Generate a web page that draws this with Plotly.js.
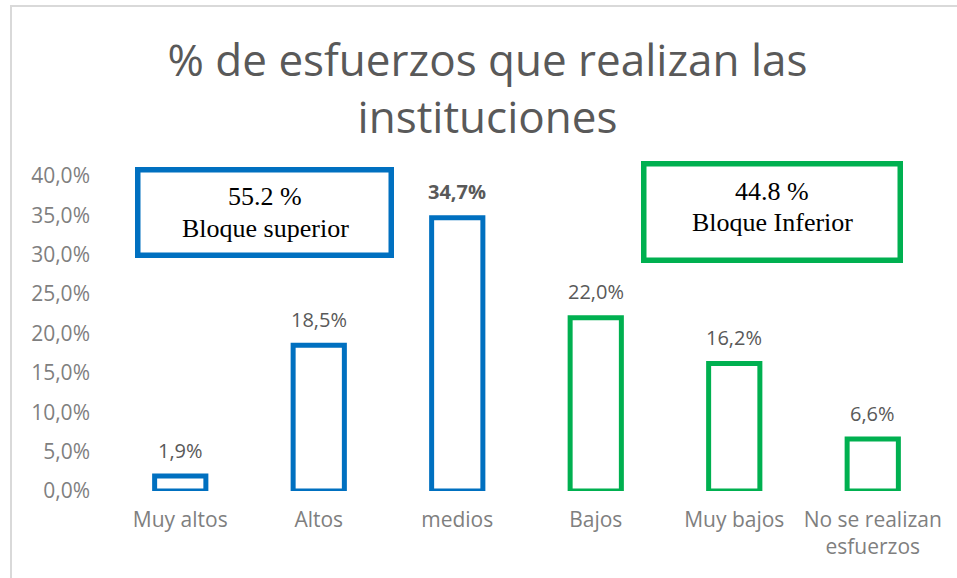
<!DOCTYPE html>
<html>
<head>
<meta charset="utf-8">
<script src="https://cdn.plot.ly/plotly-3.0.1.min.js"></script>
<style>
  html, body { margin: 0; padding: 0; background: #fff; overflow: hidden; }
  #chart { position: absolute; left: 0; top: 0; width: 957px; height: 578px; }
  #frame { position: absolute; left: 10px; top: 5px; width: 2000px; height: 2000px;
           border-left: 2px solid #d9d9d9; border-top: 2px solid #d9d9d9; pointer-events: none; }
</style>
</head>
<body>
<div id="chart"></div>
<div id="frame"></div>
<script>
// ---- data ----
const categories = ["Muy altos", "Altos", "medios", "Bajos", "Muy bajos", "No se realizan<br>esfuerzos"];
const values = [1.9, 18.5, 34.7, 22.0, 16.2, 6.6];
const labels = ["1,9%", "18,5%", "34,7%", "22,0%", "16,2%", "6,6%"];
const boldLabel = [false, false, true, false, false, false];
const groups = ["sup", "sup", "sup", "inf", "inf", "inf"];
const yTicks = [0, 5, 10, 15, 20, 25, 30, 35, 40];
const yTickText = ["0,0%", "5,0%", "10,0%", "15,0%", "20,0%", "25,0%", "30,0%", "35,0%", "40,0%"];
const blockSupText = ["55.2 %", "Bloque superior"];
const blockInfText = ["44.8 %", "Bloque Inferior"];

// ---- styling ----
const W = 957, H = 578;
const M = { l: 111, r: 15, t: 176, b: 87 };
const PW = W - M.l - M.r, PH = H - M.t - M.b;
const BLUE = "#0070C0", GREEN = "#00B050";
const groupColor = { sup: BLUE, inf: GREEN };
const px2x = px => (px - M.l) / PW;
const px2y = py => (H - M.b - py) / PH;

const trace = {
  type: "bar",
  x: categories,
  y: values,
  marker: {
    color: "rgba(255,255,255,1)",
    line: { color: groups.map(g => groupColor[g]), width: 5 }
  },
  hoverinfo: "skip"
};

const annotations = categories.map((c, i) => ({
  x: c, y: values[i], xref: "x", yref: "y",
  text: boldLabel[i] ? "<b>" + labels[i] + "</b>" : labels[i],
  showarrow: false, yanchor: "middle", yshift: 26,
  font: { family: "Open Sans", size: 20, color: "#595959" }
}));

function boxText(txt, cx, cy) {
  return { xref: "paper", yref: "paper", x: px2x(cx), y: px2y(cy), text: txt,
    showarrow: false, xanchor: "center", yanchor: "middle",
    font: { family: "Liberation Serif", size: 26, color: "#000" } };
}
annotations.push(boxText(blockSupText[0], 265, 196));
annotations.push(boxText(blockSupText[1], 265, 228));
annotations.push(boxText(blockInfText[0], 772, 191));
annotations.push(boxText(blockInfText[1], 772, 222));

const shapes = [
  { type: "rect", xref: "paper", yref: "paper",
    x0: px2x(137.75), x1: px2x(391.25), y0: px2y(255.25), y1: px2y(169.75),
    line: { color: BLUE, width: 5.5 }, fillcolor: "rgba(0,0,0,0)" },
  { type: "rect", xref: "paper", yref: "paper",
    x0: px2x(643.75), x1: px2x(900.25), y0: px2y(260.25), y1: px2y(163.75),
    line: { color: GREEN, width: 5.5 }, fillcolor: "rgba(0,0,0,0)" }
];

const layout = {
  width: W, height: H,
  margin: M,
  paper_bgcolor: "rgba(0,0,0,0)", plot_bgcolor: "rgba(0,0,0,0)",
  separators: ",.",
  showlegend: false,
  bargap: 0.63,
  title: {
    text: "% de esfuerzos que realizan las<br>instituciones",
    font: { family: "Open Sans", size: 44, color: "#595959" },
    xref: "container", x: 487.5 / W, xanchor: "center",
    yref: "container", y: 1 - 76 / H, yanchor: "top"
  },
  xaxis: {
    type: "category", showgrid: false, zeroline: false, showline: false, ticks: "",
    tickfont: { family: "Open Sans", size: 21, color: "#7f7f7f" },
    ticklabelstandoff: 14
  },
  yaxis: {
    range: [0, 40], tickmode: "array", tickvals: yTicks, ticktext: yTickText,
    showgrid: false, zeroline: false, showline: false, ticks: "",
    tickfont: { family: "Open Sans", size: 21, color: "#7f7f7f" },
    ticklabelstandoff: 20
  },
  annotations: annotations,
  shapes: shapes
};

Plotly.newPlot("chart", [trace], layout, { displayModeBar: false, staticPlot: true });
</script>
</body>
</html>
